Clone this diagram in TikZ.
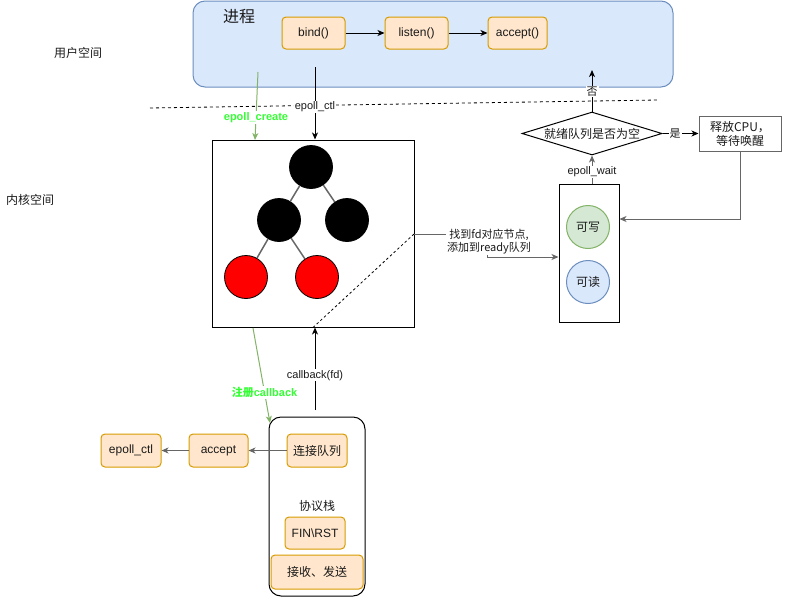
\documentclass[tikz,border=0pt]{standalone}
\usepackage{fontspec}
\setmainfont{Liberation Sans}
\newfontfamily\cjk{Noto Sans CJK SC}
\usetikzlibrary{arrows.meta,shapes.geometric}
\definecolor{bluefill}{HTML}{DAE8FC}
\definecolor{bluestroke}{HTML}{6C8EBF}
\definecolor{orfill}{HTML}{FFE6CC}
\definecolor{orstroke}{HTML}{D79B00}
\definecolor{grfill}{HTML}{D5E8D4}
\definecolor{grstroke}{HTML}{82B366}
\definecolor{lblgreen}{HTML}{33FF33}
\definecolor{darkline}{HTML}{666666}
\definecolor{txt}{HTML}{1A1A1A}
\tikzset{
  fs12/.style={font=\fontsize{12}{14}\selectfont},
  fs11/.style={font=\fontsize{11}{13}\selectfont},
  obox/.style={draw=orstroke, fill=orfill, rounded corners=4pt, line width=1pt, inner sep=0pt, fs12, text=txt},
  circ/.style={circle, draw=black, line width=0.8pt, minimum size=43pt, inner sep=0pt},
  plainbox/.style={draw=black, line width=1pt, inner sep=0pt},
  arr/.style={draw=black, line width=1pt, -{Stealth[length=7pt,width=6pt,inset=2pt]}},
  garr/.style={draw=darkline, line width=1pt, -{Stealth[length=7pt,width=6pt,inset=2pt]}},
  grarr/.style={draw=grstroke, line width=1pt, -{Stealth[length=7pt,width=6pt,inset=2pt]}},
  elbl/.style={fill=white, inner sep=1pt, fs11, text=txt},
  glbl/.style={fill=white, inner sep=1pt, font=\fontsize{11}{13}\selectfont\bfseries, text=lblgreen},
  treeline/.style={draw=darkline, line width=1.5pt},
}
\begin{document}
\begin{tikzpicture}[x=1pt,y=-1pt]
\useasboundingbox (0,0) rectangle (786,597);
% user process
\node[draw=bluestroke, fill=bluefill, rounded corners=12pt, line width=1pt, minimum width=480pt, minimum height=86pt, inner sep=0pt] (proc) at (433,44) {};
\node[font=\fontsize{16}{18}\selectfont\cjk, text=txt] (proclbl) at (239,17) {进程};
\node[obox, minimum width=63pt, minimum height=32pt] (bind) at (313.5,33) {bind()};
\node[obox, minimum width=63pt, minimum height=32pt] (listen) at (416.5,33) {listen()};
\node[obox, minimum width=59pt, minimum height=32pt] (accept) at (517.5,33) {accept()};
\draw[arr] (bind) -- (listen);
\draw[arr] (listen) -- (accept);
% space labels
\node[fs12, text=txt] (user) at (78,53) {\cjk 用户空间};
\node[fs12, text=txt] (kernel) at (30,200) {\cjk 内核空间};
% divider
\coordinate (dvl) at (150,108);
\coordinate (dvr) at (658,100);
\draw[dashed, line width=0.8pt, dash pattern=on 3pt off 3pt] (dvl) -- (dvr);
% tree box
\node[plainbox, minimum width=202pt, minimum height=187pt] (tree) at (313,233.5) {};
\node[circ, fill=black] (r1) at (311,167) {};
\node[circ, fill=black] (c1) at (279,220) {};
\node[circ, fill=black] (c2) at (347,220) {};
\node[circ, fill=red] (d1) at (246,277) {};
\node[circ, fill=red] (d2) at (317,277) {};
\draw[treeline] (r1) -- (c1);
\draw[treeline] (r1) -- (c2);
\draw[treeline] (c1) -- (d1);
\draw[treeline] (c1) -- (d2);
% epoll_ctl
\coordinate (ctls) at (315,67);
\draw[arr] (ctls) -- (ctls |- tree.north) node[elbl, pos=0.55] {epoll\_ctl};
% epoll_create
\coordinate (crs) at (258,72);
\coordinate (cre) at (255,140);
\draw[grarr] (crs) -- (cre) node[glbl, pos=0.67] {epoll\_create};
% ready box
\node[plainbox, minimum width=60pt, minimum height=138pt] (ready) at (589,253) {};
\node[circ, draw=grstroke, fill=grfill, line width=1pt, fs12, text=txt] (wr) at (588,227) {\cjk 可写};
\node[circ, draw=bluestroke, fill=bluefill, line width=1pt, fs12, text=txt] (rd) at (588,282) {\cjk 可读};
% diamond
\node[diamond, draw=black, line width=1pt, minimum width=140pt, minimum height=43pt, inner sep=0pt, shape aspect=3.25] (dia) at (592,133.5) {};
\node[fs12, text=txt] (dialbl) at (dia) {\cjk 就绪队列是否为空};
% cpu box
\node[draw=darkline, line width=1pt, minimum width=82pt, minimum height=35pt, inner sep=0pt, fs12, text=txt, align=center] (cpu) at (740,133.5) {\cjk 释放CPU，\\\cjk 等待唤醒};
% no
\coordinate (noe) at (592,70);
\draw[arr] (dia.north) -- (noe) node[elbl, pos=0.48] {\cjk 否};
% yes
\draw[arr] (dia.east) -- (cpu.west) node[elbl, pos=0.35] {\cjk 是};
% epoll_wait
\draw[garr] (dia.south |- ready.north) -- (dia.south) node[elbl, pos=0.42] {epoll\_wait};
% cpu -> ready
\draw[garr] (cpu.south) |- ([yshift=34pt]ready.east);
% find fd
\coordinate (fda) at (414,234);
\coordinate (fdb) at (487,234);
\coordinate (fdc) at (487,257);
\draw[dashed, line width=0.8pt, dash pattern=on 2.5pt off 2.5pt] (tree.south) -- (fda);
\draw[garr] (fda) -- (fdb) -- (fdc) -- (ready.west |- fdc);
\node[elbl, align=center] (fdlbl) at (489,242) {\cjk 找到fd对应节点,\\\cjk 添加到ready队列};
% protocol stack
\node[draw=black, rounded corners=12pt, line width=1pt, minimum width=96pt, minimum height=179pt, inner sep=0pt] (stack) at (317,506.5) {};
\node[obox, minimum width=60pt, minimum height=33pt] (conn) at (317,450.5) {\cjk 连接队列};
\node[fs12, text=txt] (stacklbl) at (317,506) {\cjk 协议栈};
\node[obox, minimum width=60pt, minimum height=32pt] (fin) at (315,533) {FIN\textbackslash RST};
\node[obox, minimum width=92pt, minimum height=34pt] (recv) at (317,572) {\cjk 接收、发送};
\node[obox, minimum width=59pt, minimum height=33pt] (acc2) at (218.5,450.5) {accept};
\node[obox, minimum width=60pt, minimum height=33pt] (ectl2) at (131,450.5) {epoll\_ctl};
\draw[garr] (conn.west) -- (acc2.east);
\draw[garr] (acc2.west) -- (ectl2.east);
% callback
\coordinate (cbs) at (315,410);
\draw[arr] (cbs) -- (cbs |- tree.south) node[elbl, pos=0.42] {callback(fd)};
% register callback
\coordinate (rgs) at (253,328);
\coordinate (rge) at (270,423);
\draw[grarr] (rgs) -- (rge) node[glbl, pos=0.68] {{\cjk 注册}callback};
\end{tikzpicture}
\end{document}
